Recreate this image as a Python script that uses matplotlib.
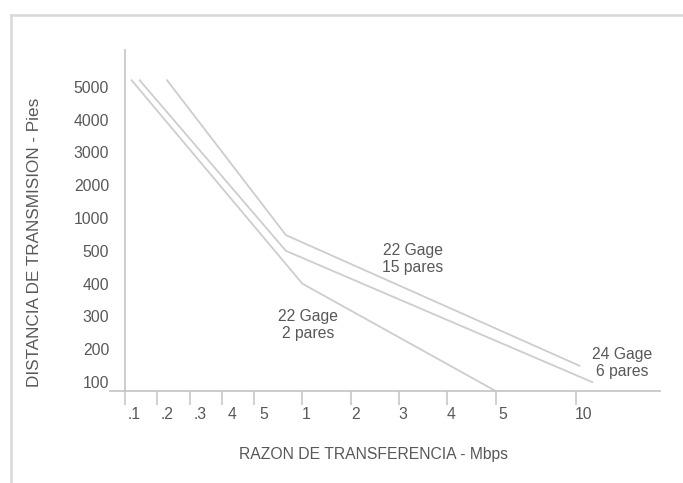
import numpy as np
import matplotlib
matplotlib.use("Agg")
import matplotlib.pyplot as plt
from matplotlib.transforms import ScaledTranslation
from matplotlib.lines import Line2D

plt.rcParams['font.family'] = ['Liberation Sans', 'DejaVu Sans']

# Tick values on both axes
rate_ticks = [0.1, 0.2, 0.3, 0.4, 0.5, 1, 2, 3, 4, 5, 10]
rate_labels = ['.1', '.2', '.3', '4', '5', '1', '2', '3', '4', '5', '10']
dist_ticks = [100, 200, 300, 400, 500, 1000, 2000, 3000, 4000, 5000]
dist_labels = [str(v) for v in dist_ticks]

# Curves: transfer rate (Mbps) against transmission distance (feet)
rate_2p = [0.12, 1.0, 5.0]
dist_2p = [5200, 400, 73]
rate_6p = [0.145, 0.83, 11.0]
dist_6p = [5200, 500, 100]
rate_15p = [0.23, 0.83, 10.2]
dist_15p = [5200, 740, 150]

# Slot layout: where each tick value sits along its axis
RATE_SLOTS = [0, 1, 2, 3, 4, 5.5, 7, 8.5, 10, 11.5, 14]
DIST_SLOTS = list(range(len(dist_ticks)))


def piecewise(vals, slots):
    v = np.asarray(vals, float)
    s = np.asarray(slots, float)
    lo = (s[1] - s[0]) / (v[1] - v[0])
    hi = (s[-1] - s[-2]) / (v[-1] - v[-2])

    def fwd(x):
        x = np.asarray(x, float)
        y = np.interp(x, v, s)
        y = np.where(x < v[0], s[0] + (x - v[0]) * lo, y)
        y = np.where(x > v[-1], s[-1] + (x - v[-1]) * hi, y)
        return y

    def inv(y):
        y = np.asarray(y, float)
        x = np.interp(y, s, v)
        x = np.where(y < s[0], v[0] + (y - s[0]) / lo, x)
        x = np.where(y > s[-1], v[-1] + (y - s[-1]) / hi, x)
        return x

    return fwd, inv


fx, ix = piecewise(rate_ticks, RATE_SLOTS)
fy, iy = piecewise(dist_ticks, DIST_SLOTS)

W, H = 683, 483
fig = plt.figure(figsize=(W / 100, H / 100), dpi=100)
fig.patch.set_facecolor('white')

# light frame around the drawing
frame_c = '#d8d8d8'
x0, y0 = 11 / W, 1 - 15 / H
fig.add_artist(Line2D([x0, x0], [0, y0], color=frame_c, lw=1.8, transform=fig.transFigure))
fig.add_artist(Line2D([x0, 1], [y0, y0], color=frame_c, lw=1.8, transform=fig.transFigure))

ax = fig.add_axes([110 / W, 1 - 391 / H, 550 / W, 341 / H])
ax.set_facecolor('none')
ax.set_xscale('function', functions=(fx, ix))
ax.set_yscale('function', functions=(fy, iy))
ax.set_xlim(float(ix(-0.47)), float(ix(16.6)))
ax.set_ylim(float(iy(-0.27)), float(iy(10.12)))

line_c = '#cdcdcd'
for r, d in [(rate_2p, dist_2p), (rate_6p, dist_6p), (rate_15p, dist_15p)]:
    ax.plot(r, d, color=line_c, lw=1.3, solid_joinstyle='round')

axis_c = '#c4c4c4'
for side in ('top', 'right'):
    ax.spines[side].set_visible(False)
ax.spines['left'].set_position(('data', 0.1))
for side in ('left', 'bottom'):
    ax.spines[side].set_color(axis_c)
    ax.spines[side].set_linewidth(1.2)

ax.set_xticks(rate_ticks)
ax.set_xticklabels(rate_labels)
ax.set_yticks(dist_ticks)
ax.set_yticklabels(dist_labels)
ax.minorticks_off()

txt_c = '#585858'
fs = 11.3
ax.tick_params(axis='x', direction='out', length=10, width=1.1, color=axis_c,
               labelsize=fs, labelcolor=txt_c, pad=1.5)
ax.tick_params(axis='y', length=0, labelsize=fs, labelcolor=txt_c, pad=11.5)

ax.text(0.551, 0.387, '22 Gage\n15 pares', transform=ax.transAxes, ha='center',
        va='center', fontsize=fs, color=txt_c, linespacing=1.15)
ax.text(0.360, 0.194, '22 Gage\n2 pares', transform=ax.transAxes, ha='center',
        va='center', fontsize=fs, color=txt_c, linespacing=1.15)
ax.text(0.931, 0.082, '24 Gage\n6 pares', transform=ax.transAxes, ha='center',
        va='center', fontsize=fs, color=txt_c, linespacing=1.15)

fig.text(373 / W, 1 - 455 / H, 'RAZON DE TRANSFERENCIA - Mbps', ha='center',
         va='center', fontsize=fs, color=txt_c)
fig.text(35 / W, 1 - 242 / H, 'DISTANCIA DE TRANSMISION - Pies', ha='center',
         va='center', rotation=90, fontsize=12.3, color=txt_c)

# nudge the rate labels to the right of their tick marks
fig.canvas.draw()
shifts = [9, 10, 11, 10, 10, 4, 5, 4, 4, 7, 7]
for tick, dx in zip(ax.xaxis.get_major_ticks(), shifts):
    tick.label1.set_transform(tick.label1.get_transform() +
                              ScaledTranslation(dx / 100, 0, fig.dpi_scale_trans))

fig.savefig('out.png', dpi=100)
